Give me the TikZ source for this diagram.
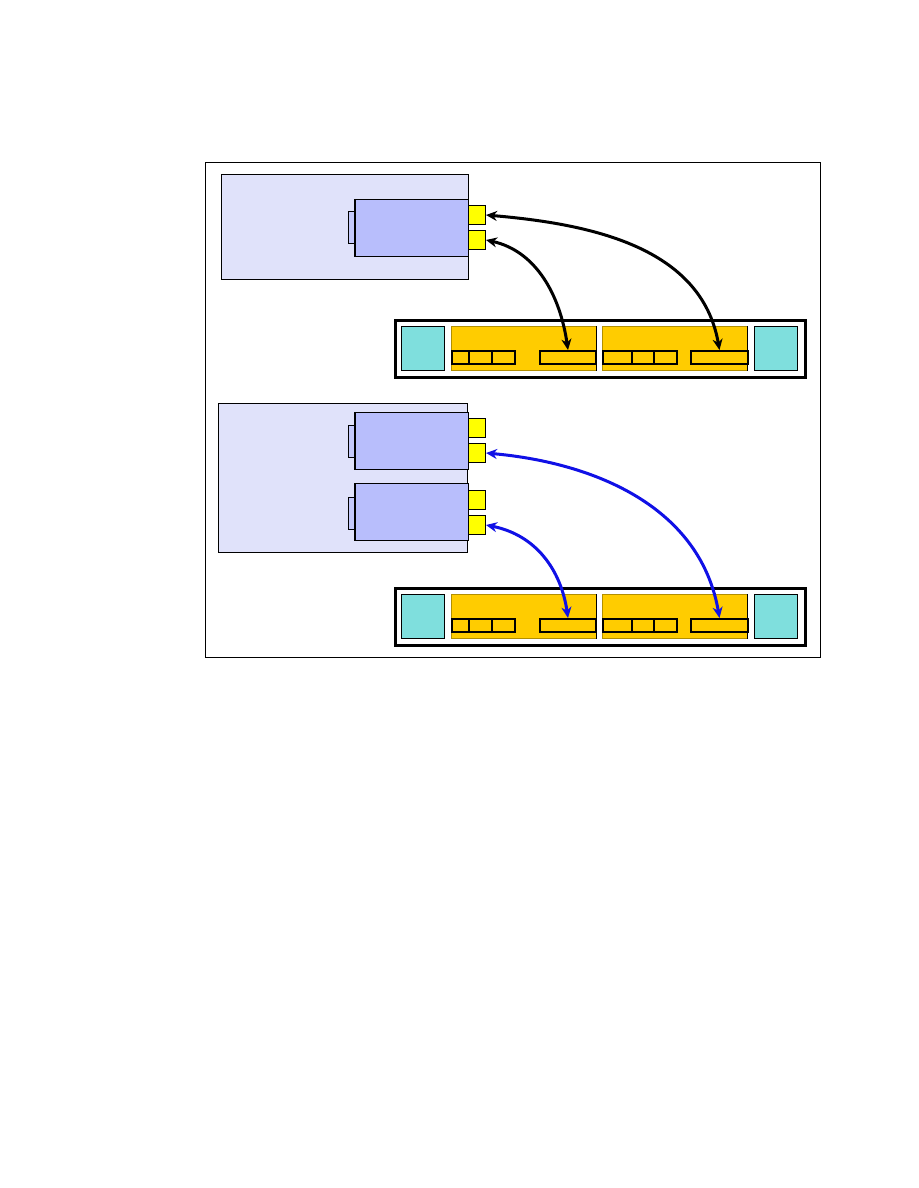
\documentclass[tikz,border=0pt]{standalone}
\usepackage{tikz}
\usetikzlibrary{arrows.meta}

\definecolor{serverbg}{RGB}{224,226,250}
\definecolor{adapterbg}{RGB}{184,190,252}
\definecolor{portbg}{RGB}{255,255,0}
\definecolor{bladebg}{RGB}{255,204,0}
\definecolor{psbg}{RGB}{127,223,221}
\definecolor{linkblue}{RGB}{16,16,230}

\begin{document}
\begin{tikzpicture}[x=1pt,y=-1pt,>={Stealth[length=11pt,width=10pt]},
  box/.style={draw,line width=1pt,inner sep=0pt,anchor=north west},
  server/.style={box,fill=serverbg},
  adapter/.style={box,fill=adapterbg,minimum width=113pt,minimum height=57pt},
  tab/.style={box,fill=adapterbg!70!serverbg,minimum width=7pt,minimum height=32pt},
  port/.style={box,fill=portbg,minimum width=17pt,minimum height=19pt},
  psu/.style={box,fill=psbg,minimum width=43pt,minimum height=44pt},
  blade/.style={box,draw=bladebg!70!black,line width=0.6pt,fill=bladebg,minimum width=145pt,minimum height=44pt},
  slot/.style={box,line width=2pt,minimum height=13pt},
  link/.style={<->,line width=3pt}]
  \useasboundingbox (0,0) rectangle (918,1188);
  \draw[line width=1pt] (205.5,162.5) rectangle (820,657);

  % upper server, one adapter
  \node[server,minimum width=247pt,minimum height=105pt] (srv1) at (221,174) {};
  \node[tab] (tab1) at (348,211) {};
  \node[adapter] (hba1) at (355,199) {};
  \draw[line width=2pt] (hba1.north west) -- (hba1.south west);
  \node[port] (p1a) at (468,205) {};
  \node[port] (p1b) at (468,230) {};

  % lower server, two adapters
  \node[server,minimum width=249pt,minimum height=149pt] (srv2) at (218,403) {};
  \node[tab] (tab2) at (348,425) {};
  \node[adapter] (hba2) at (355,412) {};
  \draw[line width=2pt] (hba2.north west) -- (hba2.south west);
  \node[port] (p2a) at (468,418) {};
  \node[port] (p2b) at (468,443) {};
  \node[tab] (tab3) at (348,497) {};
  \node[adapter] (hba3) at (355,483) {};
  \draw[line width=2pt] (hba3.north west) -- (hba3.south west);
  \node[port] (p3a) at (468,490) {};
  \node[port] (p3b) at (468,515) {};

  % the two switches
  \foreach \s/\y in {1/319,2/587}{
    \node[box,line width=3pt,minimum width=410pt,minimum height=57pt] (sw\s) at (394,\y) {};
    \node[psu] (sw\s ps1) at (401,\y+7) {};
    \node[blade] (sw\s b1) at (451,\y+7) {};
    \node[blade] (sw\s b2) at (602,\y+7) {};
    \node[psu] (sw\s ps2) at (754,\y+7) {};
    \draw[line width=1.5pt] (sw\s b1.north east) -- (sw\s b1.south east);
    \draw[line width=1.5pt] (sw\s b2.north east) -- (sw\s b2.south east);
    \node[slot,minimum width=17pt] (sw\s s1) at (451,\y+31) {};
    \node[slot,minimum width=23pt] (sw\s s2) at (468,\y+31) {};
    \node[slot,minimum width=23pt] (sw\s s3) at (491,\y+31) {};
    \node[slot,minimum width=56pt] (sw\s e1) at (539,\y+31) {};
    \node[slot,minimum width=29pt] (sw\s s4) at (602,\y+31) {};
    \node[slot,minimum width=22pt] (sw\s s5) at (631,\y+31) {};
    \node[slot,minimum width=23pt] (sw\s s6) at (653,\y+31) {};
    \node[slot,minimum width=57pt] (sw\s e2) at (690,\y+31) {};
  }

  % links
  \draw[link] (p1a.east) .. controls +(105,9) and +(-18,-103) .. (sw1e2.north);
  \draw[link] (p1b.east) .. controls +(50,11) and +(-8,-55) .. (sw1e1.north);
  \draw[link,linkblue] (p2b.east) .. controls +(111,10) and +(-19,-110) .. (sw2e2.north);
  \draw[link,linkblue] (p3b.east) .. controls +(50,10) and +(-7,-48) .. (sw2e1.north);
\end{tikzpicture}
\end{document}
